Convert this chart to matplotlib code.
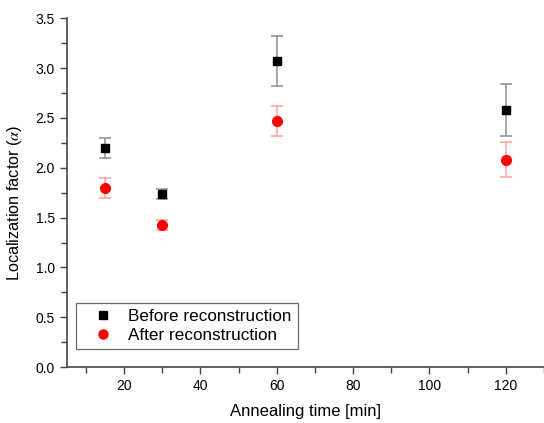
import matplotlib
matplotlib.use('Agg')
import matplotlib.pyplot as plt
from matplotlib.ticker import MultipleLocator
from matplotlib.lines import Line2D

plt.rcParams['font.family'] = ['Liberation Sans', 'DejaVu Sans']
plt.rcParams['mathtext.fontset'] = 'stix'

# Annealing times and localization factors
times = [15, 30, 60, 120]
before = [2.20, 1.74, 3.07, 2.58]
before_err = [0.10, 0.05, 0.25, 0.26]
after = [1.80, 1.43, 2.47, 2.08]
after_err = [0.10, 0.05, 0.15, 0.175]

fig = plt.figure(figsize=(5.44, 4.23), dpi=100)
ax = fig.add_axes([0.123, 0.132, 0.877, 0.825])

ax.errorbar(times, before, yerr=before_err, fmt='s', color='black', ms=6,
            ecolor='#909090', elinewidth=1.1, capsize=4, capthick=1.1)
ax.errorbar(times, after, yerr=after_err, fmt='o', color='red', ms=7,
            ecolor='#ffa0a0', elinewidth=1.1, capsize=4, capthick=1.1)

ax.set_xlim(5, 130)
ax.set_ylim(0, 3.5)
ax.xaxis.set_major_locator(MultipleLocator(20))
ax.xaxis.set_minor_locator(MultipleLocator(10))
ax.yaxis.set_major_locator(MultipleLocator(0.5))
ax.yaxis.set_minor_locator(MultipleLocator(0.25))
ax.yaxis.set_major_formatter(plt.FormatStrFormatter('%.1f'))

for s in ['top', 'right']:
    ax.spines[s].set_visible(False)
for s in ['left', 'bottom']:
    ax.spines[s].set_color('#444444')
    ax.spines[s].set_linewidth(1.2)
ax.tick_params(which='both', direction='out', colors='#444444', labelcolor='black',
               labelsize=10, width=1.0)
ax.tick_params(which='major', length=5)
ax.tick_params(which='minor', length=4)

ax.set_xlabel('Annealing time [min]', fontsize=12, labelpad=8)
ax.set_ylabel(r'Localization factor ($\alpha$)', fontsize=11.7)
ax.yaxis.set_label_coords(-0.09, 0.47)

handles = [
    Line2D([], [], ls='none', marker='s', color='black', ms=6),
    Line2D([], [], ls='none', marker='o', color='red', ms=6.5),
]
leg = ax.legend(handles, ['Before reconstruction', 'After reconstruction'],
                loc='lower left', bbox_to_anchor=(0.019, 0.052), fontsize=12.3,
                frameon=True, fancybox=False, edgecolor='#444444',
                handletextpad=0.3, handlelength=2.35, borderpad=0.38,
                labelspacing=0.2, numpoints=1, borderaxespad=0)
leg.get_frame().set_linewidth(0.9)

fig.savefig('out.png', dpi=100)
